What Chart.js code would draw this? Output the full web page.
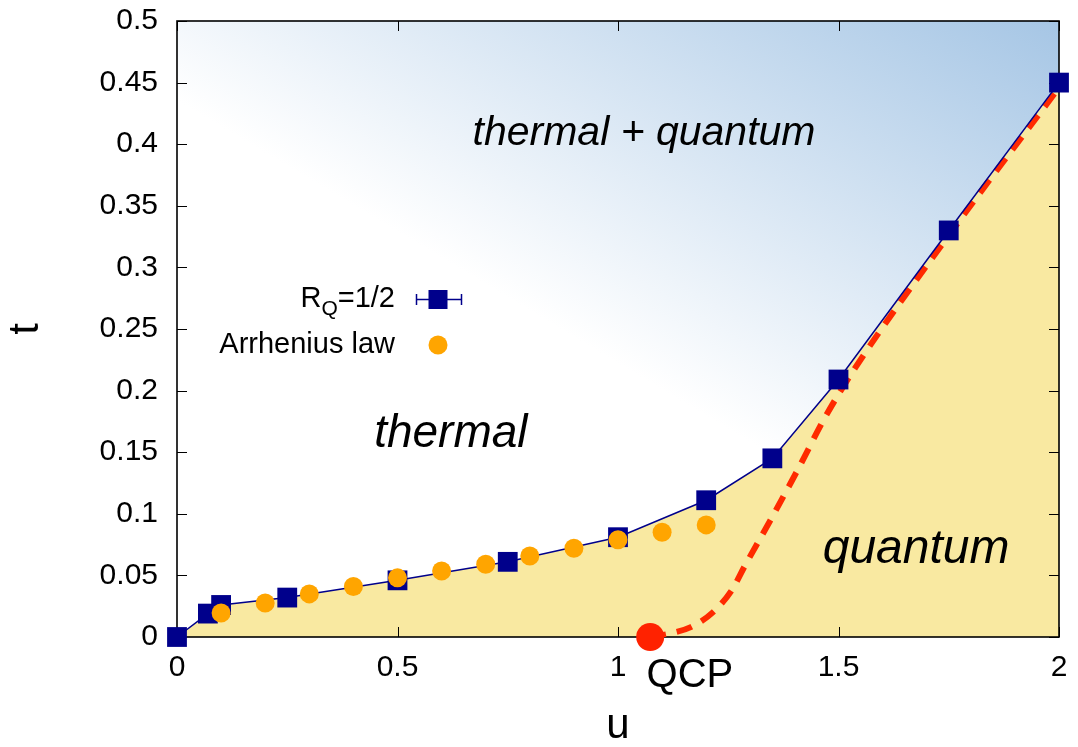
<!DOCTYPE html>
<html>
<head>
<meta charset="utf-8">
<script src="https://cdn.jsdelivr.net/npm/chart.js@4/dist/chart.umd.min.js"></script>
<style>
  html, body { margin: 0; padding: 0; background: #fff; }
</style>
</head>
<body>
<canvas id="phaseChart" width="1078" height="747"></canvas>
<script>
// R_Q = 1/2 crossing points
const uRQ = [0, 0.07, 0.1, 0.25, 0.5, 0.75, 1.0, 1.2, 1.35, 1.5, 1.75, 2.0];
const tRQ = [0, 0.019, 0.026, 0.032, 0.046, 0.061, 0.081, 0.111, 0.145, 0.209, 0.33, 0.45];
// Arrhenius law points
const uArr = [0.1, 0.2, 0.3, 0.4, 0.5, 0.6, 0.7, 0.8, 0.9, 1.0, 1.1, 1.2];
const tArr = [0.0195, 0.0276, 0.035, 0.041, 0.048, 0.0536, 0.059, 0.0657, 0.072, 0.079, 0.085, 0.091];
// quantum critical point and crossover (dashed red)
const uQCP = [1.073];
const tQCP = [0];
const uCross = [1.073, 1.12, 1.165, 1.215, 1.258, 1.288, 1.349, 1.408, 1.469, 1.537, 1.75, 2.0];
const tCross = [0, 0.003, 0.008, 0.020, 0.038, 0.058, 0.097, 0.136, 0.178, 0.218, 0.326, 0.446];
// ticks
const xTicks = [0, 0.5, 1, 1.5, 2];
const xTickLabels = ['0', '0.5', '1', '1.5', '2'];
const yTicks = [0, 0.05, 0.1, 0.15, 0.2, 0.25, 0.3, 0.35, 0.4, 0.45, 0.5];
const yTickLabels = ['0', '0.05', '0.1', '0.15', '0.2', '0.25', '0.3', '0.35', '0.4', '0.45', '0.5'];

const FONT = "'Liberation Sans', Arial, sans-serif";
const pts = (xs, ys) => xs.map((x, i) => ({ x: x, y: ys[i] }));

// region labels, in data coords (baseline centre)
const regionLabels = [
  { text: 'thermal + quantum', u: 1.059, t: 0.399, size: 41, italic: true },
  { text: 'thermal', u: 0.621, t: 0.154, size: 46, italic: true },
  { text: 'quantum', u: 1.676, t: 0.060, size: 48, italic: true },
  { text: 'QCP', u: 1.163, t: -0.0406, size: 40, italic: false }
];

function skyFill(c) {
  const a = c.chart.chartArea;
  if (!a) return 'rgba(0,0,0,0)';
  const w = a.right - a.left, h = a.bottom - a.top;
  const g = c.chart.ctx.createLinearGradient(a.left + 0.274 * w, a.top + 0.363 * h, a.left + 0.575 * w, a.top - 0.36 * h);
  g.addColorStop(0, '#ffffff');
  g.addColorStop(1, '#a6c6e5');
  return g;
}

const frameAndTicks = {
  id: 'frameAndTicks',
  beforeDatasetsDraw(chart) {
    const { ctx, chartArea: a, scales } = chart;
    ctx.save();
    ctx.strokeStyle = '#000';
    ctx.lineWidth = 1;
    ctx.beginPath();
    xTicks.forEach(v => {
      const px = Math.round(scales.x.getPixelForValue(v)) + 0.5;
      ctx.moveTo(px, a.bottom); ctx.lineTo(px, a.bottom - 10);
      ctx.moveTo(px, a.top); ctx.lineTo(px, a.top + 10);
    });
    yTicks.forEach(v => {
      const py = Math.round(scales.y.getPixelForValue(v)) + 0.5;
      ctx.moveTo(a.left, py); ctx.lineTo(a.left + 10, py);
      ctx.moveTo(a.right, py); ctx.lineTo(a.right - 10, py);
    });
    ctx.stroke();
    ctx.lineWidth = 1.6;
    ctx.strokeRect(a.left, a.top, a.right - a.left, a.bottom - a.top);
    ctx.restore();
  },
  afterDraw(chart) {
    const { ctx, scales } = chart;
    ctx.save();
    ctx.fillStyle = '#000';
    ctx.textBaseline = 'alphabetic';
    regionLabels.forEach(l => {
      ctx.font = (l.italic ? 'italic ' : '') + l.size + 'px ' + FONT;
      ctx.textAlign = 'center';
      ctx.fillText(l.text, scales.x.getPixelForValue(l.u), scales.y.getPixelForValue(l.t));
    });

    // key, gnuplot style: right-aligned text, symbol on the right
    const right = 395;
    ctx.textAlign = 'right';
    ctx.font = '29px ' + FONT;
    const eqW = ctx.measureText('=1/2').width;
    ctx.fillText('=1/2', right, 307);
    ctx.font = '21px ' + FONT;
    const qW = ctx.measureText('Q').width;
    ctx.fillText('Q', right - eqW, 315);
    ctx.font = '29px ' + FONT;
    ctx.fillText('R', right - eqW - qW, 307);
    ctx.fillText('Arrhenius law', right, 353);

    ctx.strokeStyle = '#00008b';
    ctx.lineWidth = 1.5;
    ctx.beginPath();
    ctx.moveTo(416, 299.5); ctx.lineTo(462, 299.5);
    ctx.moveTo(416.5, 294); ctx.lineTo(416.5, 305);
    ctx.moveTo(461.5, 294); ctx.lineTo(461.5, 305);
    ctx.stroke();
    ctx.fillStyle = '#00008b';
    ctx.fillRect(428.5, 290, 19, 19);
    ctx.fillStyle = '#ffa500';
    ctx.beginPath();
    ctx.arc(438, 345, 9.5, 0, Math.PI * 2);
    ctx.fill();
    ctx.restore();
  }
};

new Chart(document.getElementById('phaseChart'), {
  type: 'line',
  data: {
    datasets: [
      {
        label: 'Arrhenius law',
        data: pts(uArr, tArr),
        showLine: false,
        pointStyle: 'circle',
        pointRadius: 9.5,
        pointBackgroundColor: '#ffa500',
        pointBorderWidth: 0,
        clip: false
      },
      {
        label: 'QCP',
        data: pts(uQCP, tQCP),
        showLine: false,
        pointRadius: 14,
        pointBackgroundColor: '#ff2200',
        pointBorderWidth: 0,
        clip: false
      },
      {
        label: 'R_Q=1/2',
        data: pts(uRQ, tRQ),
        borderColor: '#00008b',
        borderWidth: 1.5,
        pointStyle: 'rect',
        pointRadius: 14,
        pointBackgroundColor: '#00008b',
        pointBorderWidth: 0,
        fill: 'end',
        backgroundColor: skyFill,
        clip: false
      },
      {
        label: 'crossover',
        data: pts(uCross, tCross),
        borderColor: '#ff2a00',
        borderWidth: 6,
        borderDash: [16, 11],
        cubicInterpolationMode: 'monotone',
        pointRadius: 0,
        fill: false
      },
      {
        label: 'quantum region',
        data: pts(uRQ, tRQ),
        borderWidth: 0,
        pointRadius: 0,
        backgroundColor: '#f9e9a1',
        fill: 'origin'
      }
    ]
  },
  options: {
    responsive: false,
    animation: false,
    events: [],
    layout: { padding: { top: 21, right: 19, left: 0, bottom: 0 } },
    scales: {
      x: {
        type: 'linear',
        min: 0,
        max: 2,
        afterBuildTicks: s => { s.ticks = xTicks.map(v => ({ value: v })); },
        afterFit: s => { s.height = 110; s.paddingLeft = 0; s.paddingRight = 0; },
        ticks: {
          callback: (v, i) => xTickLabels[i],
          font: { family: FONT, size: 30 },
          color: '#000',
          padding: 13,
          maxRotation: 0
        },
        grid: { display: false, drawTicks: false, tickLength: 0 },
        border: { display: false },
        title: {
          display: true,
          text: 'u',
          font: { family: FONT, size: 42, lineHeight: 1 },
          color: '#000',
          padding: 0
        }
      },
      y: {
        type: 'linear',
        min: 0,
        max: 0.5,
        afterBuildTicks: s => { s.ticks = yTicks.map(v => ({ value: v })); },
        afterFit: s => { s.width = 177; s.paddingTop = 0; s.paddingBottom = 0; },
        ticks: {
          callback: (v, i) => yTickLabels[i],
          font: { family: FONT, size: 30 },
          color: '#000',
          padding: 19
        },
        grid: { display: false, drawTicks: false, tickLength: 0 },
        border: { display: false },
        title: {
          display: true,
          text: 't',
          font: { family: FONT, size: 42, lineHeight: 1 },
          color: '#000',
          padding: { top: 5, bottom: 0 }
        }
      }
    },
    plugins: {
      legend: { display: false },
      tooltip: { enabled: false },
      filler: { drawTime: 'beforeDatasetsDraw' }
    }
  },
  plugins: [frameAndTicks]
});
</script>
</body>
</html>
